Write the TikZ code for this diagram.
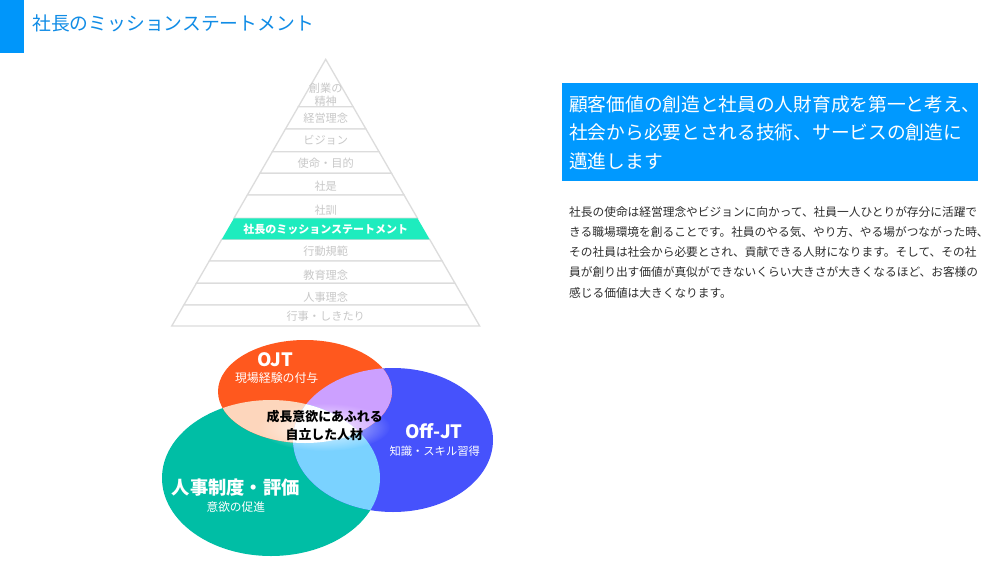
\documentclass[tikz,border=0pt]{standalone}
\usepackage{fontspec}
\setmainfont{Noto Sans CJK JP}
\usetikzlibrary{fadings}
\tikzfading[name=glowfade, inner color=transparent!0, outer color=transparent!100]
\definecolor{titleblue}{RGB}{0,150,250}
\definecolor{titletext}{RGB}{16,140,230}
\definecolor{boxblue}{RGB}{0,153,255}
\definecolor{bandline}{RGB}{220,220,220}
\definecolor{bandtext}{RGB}{200,200,200}
\definecolor{mint}{RGB}{30,236,190}
\definecolor{ojtc}{RGB}{255,88,30}
\definecolor{offc}{RGB}{70,82,252}
\definecolor{tealc}{RGB}{0,190,165}
\definecolor{peachc}{RGB}{253,214,188}
\definecolor{lavc}{RGB}{204,160,255}
\definecolor{skyc}{RGB}{122,210,255}
\definecolor{bodytext}{RGB}{45,45,45}
\newcommand\pbandpath[2]{({325.7-(#1-59.3)*0.5773},#1) -- ({325.7+(#1-59.3)*0.5773},#1) -- ({325.7+(#2-59.3)*0.5773},#2) -- ({325.7-(#2-59.3)*0.5773},#2) -- cycle}
\tikzset{
  lbl/.style={inner sep=0, anchor=base, text=bandtext, font=\fontsize{11.2}{12}\selectfont},
  band/.style={draw=bandline, line width=1.3pt, fill=white},
  wtxt/.style={inner sep=0, anchor=base, text=white},
  bodyline/.style={inner sep=0, anchor=base west, text=bodytext, font=\fontsize{11.7}{12}\selectfont},
  boxline/.style={inner sep=0, anchor=base west, text=white, font=\fontsize{18.7}{20}\selectfont}
}
\begin{document}
\begin{tikzpicture}[x=1pt,y=-1pt]
\useasboundingbox (0,0) rectangle (1000,562);
\fill[white] (0,0) rectangle (1000,562);
% title
\fill[titleblue] (0,0) rectangle (24,53);
\node[inner sep=0, anchor=base west, text=titletext, font=\fontsize{18.8}{20}\selectfont] (title) at (32,30.5) {社長のミッションステートメント};
% pyramid
\filldraw[band] (325.7,59.3) -- ({325.7+(106.7-59.3)*0.5773},106.7) -- ({325.7-(106.7-59.3)*0.5773},106.7) -- cycle;
\filldraw[band] \pbandpath{106.7}{129};
\filldraw[band] \pbandpath{129}{151.7};
\filldraw[band] \pbandpath{151.7}{173.3};
\filldraw[band] \pbandpath{173.3}{195};
\filldraw[band] \pbandpath{195}{218.3};
\filldraw[band] \pbandpath{239.3}{261};
\filldraw[band] \pbandpath{261}{283.3};
\filldraw[band] \pbandpath{283.3}{305};
\filldraw[band] \pbandpath{305}{326};
\fill[mint] \pbandpath{218.3}{239.3};
\node[lbl] (p1a) at (325.7,92.2) {創業の};
\node[lbl] (p1b) at (325.7,105.9) {精神};
\node[lbl] (p2) at (325.7,122.5) {経営理念};
\node[lbl] (p3) at (325.7,144.9) {ビジョン};
\node[lbl] (p4) at (325.7,167.5) {使命・目的};
\node[lbl] (p5) at (325.7,190.5) {社是};
\node[lbl] (p6) at (325.7,214.2) {社訓};
\node[wtxt, font=\fontsize{11}{12}\selectfont\bfseries] (p7) at (325.7,233.2) {社長のミッションステートメント};
\node[lbl] (p8) at (325.7,255.2) {行動規範};
\node[lbl] (p9) at (325.7,279.9) {教育理念};
\node[lbl] (p10) at (325.7,301.5) {人事理念};
\node[lbl] (p11) at (325.7,320.9) {行事・しきたり};
% venn
\fill[tealc] (271,478) ellipse [x radius=109, y radius=78];
\fill[offc] (393,440) ellipse [x radius=100, y radius=72];
\fill[ojtc] (305,391.5) ellipse [x radius=87, y radius=51.5];
\begin{scope}
  \clip (305,391.5) ellipse [x radius=87, y radius=51.5];
  \fill[peachc] (271,478) ellipse [x radius=109, y radius=78];
  \fill[lavc] (393,440) ellipse [x radius=100, y radius=72];
\end{scope}
\begin{scope}
  \clip (271,478) ellipse [x radius=109, y radius=78];
  \fill[skyc] (393,440) ellipse [x radius=100, y radius=72];
\end{scope}
\begin{scope}
  \clip (271,478) ellipse [x radius=109, y radius=78];
  \clip (393,440) ellipse [x radius=100, y radius=72];
  \fill[white] (305,391.5) ellipse [x radius=87, y radius=51.5];
\end{scope}
\fill[white, opacity=0.85, path fading=glowfade] (324,427) ellipse [x radius=66, y radius=24];
\node[wtxt, font=\fontsize{18.4}{20}\selectfont\bfseries] (ojt) at (275,366.7) {OJT};
\node[wtxt, font=\fontsize{11.9}{12}\selectfont] (ojts) at (276.7,382.5) {現場経験の付与};
\node[inner sep=0, anchor=base, text=black, font=\fontsize{12.9}{14}\selectfont\bfseries] (c1) at (324.7,421.9) {成長意欲にあふれる};
\node[inner sep=0, anchor=base, text=black, font=\fontsize{12.9}{14}\selectfont\bfseries] (c2) at (324.3,439.6) {自立した人材};
\node[wtxt, font=\fontsize{18.4}{20}\selectfont\bfseries] (off) at (434,438.3) {Off-JT};
\node[wtxt, font=\fontsize{11.3}{12}\selectfont] (offs) at (434.7,455.6) {知識・スキル習得};
\node[wtxt, font=\fontsize{18.3}{20}\selectfont\bfseries] (hr) at (235.8,494.5) {人事制度・評価};
\node[wtxt, font=\fontsize{11.7}{12}\selectfont] (hrs) at (235.8,511.4) {意欲の促進};
% right box
\fill[boxblue] (561.7,83.3) rectangle (978,181);
\node[boxline] (m1) at (569,111.1) {顧客価値の創造と社員の人財育成を第一と考え、};
\node[boxline] (m2) at (569,139.5) {社会から必要とされる技術、サービスの創造に};
\node[boxline] (m3) at (569,168.7) {邁進します};
\node[bodyline] (b1) at (569,216.1) {社長の使命は経営理念やビジョンに向かって、社員一人ひとりが存分に活躍で};
\node[bodyline] (b2) at (569,236.4) {きる職場環境を創ることです。社員のやる気、やり方、やる場がつながった時、};
\node[bodyline] (b3) at (569,256.5) {その社員は社会から必要とされ、貢献できる人財になります。そして、その社};
\node[bodyline] (b4) at (569,276.8) {員が創り出す価値が真似ができないくらい大きさが大きくなるほど、お客様の};
\node[bodyline] (b5) at (569,297.5) {感じる価値は大きくなります。};
\end{tikzpicture}
\end{document}
